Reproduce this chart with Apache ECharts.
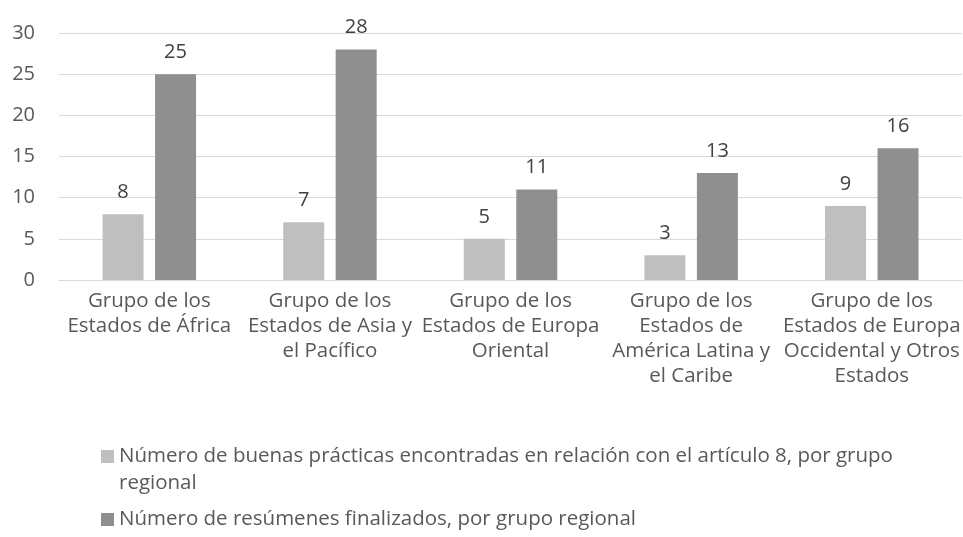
<!DOCTYPE html>
<html lang="es" style="height: 100%">
<head>
    <meta charset="UTF-8">
    <title>Buenas prácticas por grupo regional</title>
    <script type="text/javascript" src="https://cdn.jsdelivr.net/npm/echarts@6/dist/echarts.min.js"></script>
</head>
<body style="height: 100%;margin: 0;background:#fff">

<div id="contar1" style="width: 963px;height: 537px"></div>

<script type="text/javascript">
    var grupos = [
        'Grupo de los\nEstados de África',
        'Grupo de los\nEstados de Asia y\nel Pacífico',
        'Grupo de los\nEstados de Europa\nOriental',
        'Grupo de los\nEstados de\nAmérica Latina y\nel Caribe',
        'Grupo de los\nEstados de Europa\nOccidental y Otros\nEstados'
    ];
    var nombreBuenas = 'Número de buenas prácticas encontradas en relación con el artículo 8, por grupo regional';
    var nombreResumenes = 'Número de resúmenes finalizados, por grupo regional';
    var buenasPracticas = [8, 7, 5, 3, 9];
    var resumenes = [25, 28, 11, 13, 16];
    var ejeY = [0, 5, 10, 15, 20, 25, 30];

    var fuente = '"Open Sans", sans-serif';

    var chart = echarts.init(document.getElementById('contar1'));
    var option = {
        backgroundColor: '#ffffff',
        animation: false,
        textStyle: { fontFamily: fuente },
        grid: { left: 59, width: 910, top: 33, bottom: 257 },
        legend: {
            orient: 'vertical',
            left: 96,
            top: 411,
            itemGap: 9,
            itemWidth: 13,
            itemHeight: 13,
            icon: 'rect',
            data: [nombreBuenas, nombreResumenes],
            // la primera entrada ocupa dos líneas; una línea vacía arriba deja el icono junto a la primera
            formatter: function (name) {
                return name === nombreBuenas ? '\n' + name.replace(' regional', '\nregional') : name;
            },
            textStyle: { fontFamily: fuente, fontSize: 20.5, color: '#595959', lineHeight: 27 }
        },
        xAxis: {
            type: 'category',
            data: grupos,
            axisLine: { lineStyle: { color: '#d9d9d9' } },
            axisTick: { show: false },
            axisLabel: { color: '#595959', fontSize: 20.5, lineHeight: 25, margin: 9, interval: 0 }
        },
        yAxis: {
            type: 'value',
            min: ejeY[0],
            max: ejeY[ejeY.length - 1],
            interval: 5,
            axisLine: { show: false },
            axisTick: { show: false },
            splitLine: { lineStyle: { color: '#d9d9d9', width: 1 } },
            axisLabel: { color: '#595959', fontSize: 20, margin: 24 }
        },
        series: [
            {
                name: nombreBuenas,
                type: 'bar',
                data: buenasPracticas,
                barWidth: 41,
                barGap: '28%',
                itemStyle: { color: '#bfbfbf' },
                label: { show: true, position: 'top', distance: 12, color: '#404040', fontSize: 20 }
            },
            {
                name: nombreResumenes,
                type: 'bar',
                data: resumenes,
                barWidth: 41,
                itemStyle: { color: '#8f8f8f' },
                label: { show: true, position: 'top', distance: 12, color: '#404040', fontSize: 20 }
            }
        ]
    };
    chart.setOption(option);
</script>

</body>
</html>
